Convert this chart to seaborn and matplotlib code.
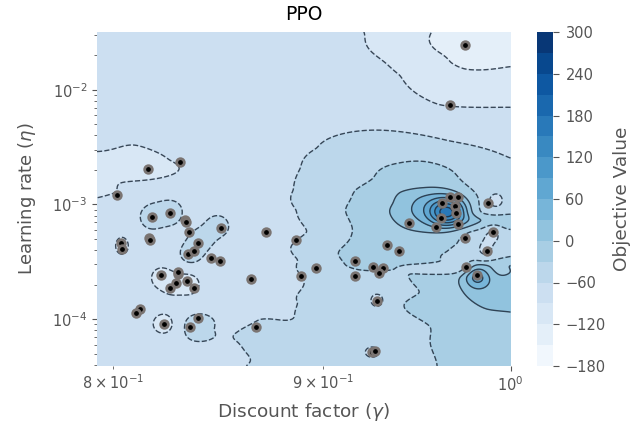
import numpy as np
import pandas as pd
import matplotlib
matplotlib.use("Agg")
import matplotlib.pyplot as plt
import seaborn as sns

title = "PPO"
x_label = r"Discount factor ($\gamma$)"
y_label = r"Learning rate ($\eta$)"
cbar_label = "Objective Value"

# trials
gamma_trials = [.8306,.8158,.8018,.8177,.8259,.8329,.8333,.8348,.8499,.8720,.8163,.8168,.8390,.8036,.8040,
                .8343,.8371,.8451,.8494,.8218,.8296,.8296,.8338,.8287,.8259,.8371,.8643,.8122,.8104,.8232,
                .8390,.8352,.8667,.8868,.8893,.8968,.9166,.9166,.9259,.9311,.9290,.9332,.9395,.9280,.9254,
                .9270,.9448,.9667,.9710,.9624,.9694,.9700,.9618,.9710,.9591,.9748,.9875,.9902,.9869,.9754,
                .9814,.9748,.9667]
eta_trials = [2.34e-3,2.04e-3,1.21e-3,7.8e-4,8.4e-4,7.3e-4,7.0e-4,5.8e-4,6.2e-4,5.8e-4,5.1e-4,4.9e-4,4.6e-4,4.6e-4,4.1e-4,
              3.7e-4,3.9e-4,3.4e-4,3.2e-4,2.44e-4,2.49e-4,2.6e-4,2.16e-4,2.08e-4,1.88e-4,1.88e-4,2.25e-4,1.23e-4,1.14e-4,9.1e-5,
              1.03e-4,8.6e-5,8.6e-5,4.9e-4,2.39e-4,2.8e-4,3.2e-4,2.39e-4,2.86e-4,2.8e-4,2.54e-4,4.45e-4,3.94e-4,1.45e-4,5.2e-5,
              5.3e-5,6.9e-4,1.16e-3,1.16e-3,1.03e-3,9.7e-4,8.4e-4,7.6e-4,6.8e-4,6.4e-4,5.1e-4,1.03e-3,5.8e-4,3.94e-4,2.86e-4,
              2.44e-4,2.44e-2,7.3e-3]

# objective surface read along its iso-lines: value, log10(gamma), log10(eta)
iso_m120_lg = [-.0193,-.0181,-.0147,-.0111,-.0001]
iso_m120_le = [-1.500,-1.657,-1.761,-1.822,-1.796]
iso_m90_lg = [-.0356,-.0342,-.0269,-.0171,-.0098,-.0001,-.1003,-.0918,-.0833,-.0884,-.0950,-.0962,-.0998]
iso_m90_le = [-1.500,-1.657,-1.874,-2.135,-2.152,-2.152,-2.544,-2.474,-2.613,-2.787,-2.804,-2.900,-2.935]
iso_m60_lg = [-.0001,-.0147,-.0317,-.0471,-.0512,-.0529,-.0522,-.0495,-.0517,-.0509,-.0517,-.0544,-.0616,-.0658,-.0663,-.0646]
iso_m60_le = [-2.596,-2.448,-2.352,-2.509,-2.683,-2.874,-3.048,-3.239,-3.483,-3.630,-3.857,-4.022,-3.996,-4.091,-4.204,-4.404]
iso_m30_lg = [-.0334,-.0269,-.0213,-.0130,-.0072,-.0101,-.0128,-.0154,-.0159,-.0116,-.0074,-.0001,
              -.0378,-.0390,-.0420,-.0402,-.0373,-.0286,-.0293,-.0264,-.0244,-.0220,-.0196,-.0179]
iso_m30_le = [-2.770,-2.639,-2.622,-2.752,-3.074,-3.239,-3.335,-3.413,-3.500,-3.570,-3.500,-3.457,
              -2.874,-3.161,-3.422,-3.535,-3.570,-3.544,-3.448,-3.457,-3.596,-3.770,-4.065,-4.404]
iso_0_lg = [-.0001,-.0043,-.0091,-.0123,-.0123,-.0098,-.0057,-.0001,-.0286,-.0269,-.0213,-.0164,-.0244,-.0196,-.0067]
iso_0_le = [-3.596,-3.517,-3.544,-3.630,-3.717,-3.830,-3.917,-3.935,-2.987,-2.891,-2.857,-2.857,-3.222,-3.248,-3.135]

hint_lg = [-.0098,-.0001,-.0220,-.0001,-.0974,-.0901,
           -.1006,-.0512,-.0950,-.0634,-.0269,-.0001,-.0998,-.0634,-.0925,-.0706,-.1006,-.0585,-.0439,
           -.0877,-.0658,-.0925,-.0658,-.0719,-.0901,-.0828,-.0694,-.0889,-.0658,-.0755,-.0877,-.0706,-.0816,
           -.0390,-.0463,-.0439,-.0439,-.0269,-.0050,-.0013,-.0196,-.0006,-.0013,-.0354,-.0402,-.0597,-.0621,
           -.0342,-.0220,-.0123,-.0001,-.0171,-.0354,-.0342,-.0026]
hint_le = [-1.570,-1.570,-1.743,-1.961,-2.657,-2.657,
           -1.500,-1.500,-2.091,-2.265,-2.178,-2.352,-3.309,-3.135,-4.265,-4.265,-3.830,-3.657,-2.004,
           -2.961,-2.874,-3.526,-3.570,-3.830,-4.222,-4.387,-4.387,-3.830,-3.222,-2.352,-3.309,-4.091,-4.222,
           -2.526,-2.961,-3.830,-4.309,-4.178,-2.787,-3.265,-2.526,-2.961,-3.352,-3.700,-3.700,-4.265,-4.135,
           -3.048,-2.744,-4.178,-4.178,-3.830,-3.439,-3.265,-3.744]
hint_val = [-135,-135,-105,-105,-105,-100,
            -75,-75,-75,-75,-75,-75,-75,-75,-75,-75,-75,-75,-75,
            -75,-75,-75,-75,-75,-75,-75,-75,-75,-75,-75,-75,-75,-75,
            -45,-45,-45,-45,-45,-45,-45,-45,-45,-45,-45,-45,-45,-45,
            -15,-15,-15,-15,-15,-20,-20,12]

# local peaks and dips of the surface around trials
peak_lg = [-.0196,-.0152,-.0081,-.0874,-.0830,-.0714,-.0755,-.0779,-.0762,-.0852,-.0823,-.0784,-.0845,-.0947,-.0325,-.0337,-.0036,-.0043,-.0064]
peak_le = [-3.004,-3.065,-3.613,-3.109,-3.074,-3.187,-3.309,-3.430,-4.074,-3.639,-3.700,-3.700,-4.039,-3.361,-3.839,-4.291,-2.961,-3.248,-3.396]
peak_height = [70,150,85,36,36,30,30,30,34,-27,-27,-27,-30,-35,-35,-35,-32,-25,-25]
peak_spread_lg = [.0063,.0031,.0023,.0022,.0022,.0024,.0024,.0022,.0034,.0019,.0019,.0019,.0017,.0012,.0015,.0013,.0016,.0017,.0017]
peak_spread_le = [.130,.083,.083,.078,.078,.078,.078,.070,.096,.070,.070,.070,.061,.057,.052,.035,.052,.070,.070]

levels = np.arange(-180, 301, 30)
cbar_ticks = np.arange(-180, 301, 60)
x_limits = (0.7929, 1.0)
y_limits = (3.9e-5, 3.19e-2)

plt.style.use("ggplot")
sns.set_style({"axes.grid": False, "axes.facecolor": "white", "axes.edgecolor": "white",
               "xtick.bottom": True, "ytick.left": True, "figure.facecolor": "white"})
plt.rcParams["font.family"] = ["DejaVu Sans"]


def local_terms(lg, le):
    total = np.zeros_like(lg, dtype=float)
    for a, b, h, su, sv in zip(peak_lg, peak_le, peak_height, peak_spread_lg, peak_spread_le):
        total += h * np.exp(-((lg - a) / su) ** 2 / 2 - ((le - b) / sv) ** 2 / 2)
    return total


lg_s = np.array(iso_m120_lg + iso_m90_lg + iso_m60_lg + iso_m30_lg + iso_0_lg + hint_lg)
le_s = np.array(iso_m120_le + iso_m90_le + iso_m60_le + iso_m30_le + iso_0_le + hint_le)
val_s = np.array([-120.] * len(iso_m120_lg) + [-90.] * len(iso_m90_lg) + [-60.] * len(iso_m60_lg)
                 + [-30.] * len(iso_m30_lg) + [0.] * len(iso_0_lg) + list(hint_val))

SU, SV = 0.1, 0.87   # one unit of smoothing distance in log10 gamma / log10 eta


def tps(r2):
    out = np.zeros_like(r2)
    m = r2 > 0
    out[m] = 0.5 * r2[m] * np.log(r2[m])
    return out


def dist2(a1, b1, a2, b2):
    return ((a1[..., None] - a2) / SU) ** 2 + ((b1[..., None] - b2) / SV) ** 2


n = len(lg_s)
K = tps(dist2(lg_s, le_s, lg_s, le_s)) + 1e-3 * np.eye(n)
P = np.column_stack([np.ones(n), lg_s / SU, le_s / SV])
A = np.block([[K, P], [P.T, np.zeros((3, 3))]])
# the flat left plateau (-75) is a background level; local features sit on top of it
residual = val_s - local_terms(lg_s, le_s) * (val_s != -75)
b = np.concatenate([residual, np.zeros(3)])
w = np.linalg.solve(A, b)

gx = np.linspace(np.log10(x_limits[0]), np.log10(x_limits[1]), 400)
gy = np.linspace(np.log10(y_limits[0]), np.log10(y_limits[1]), 400)
LG, LE = np.meshgrid(gx, gy)
Z = tps(dist2(LG, LE, lg_s, le_s)) @ w[:n] + w[n] + w[n + 1] * LG / SU + w[n + 2] * LE / SV
Z = Z + local_terms(LG, LE)
Z = np.clip(Z, -179, 299)

fig = plt.figure(figsize=(6.44, 4.32), dpi=100, facecolor="white")
ax = fig.add_axes([97 / 644, 66 / 432, 413.5 / 644, 334 / 432])
cax = fig.add_axes([537 / 644, 66 / 432, 16 / 644, 334 / 432])
ax.set_xscale("log")
ax.set_yscale("log")
ax.grid(False)

cf = ax.contourf(10 ** LG, 10 ** LE, Z, levels=levels, cmap=sns.color_palette("Blues", as_cmap=True))
ax.contour(10 ** LG, 10 ** LE, Z, levels=levels, colors="#1f2d3d", linewidths=1.0, alpha=0.85)

trials = pd.DataFrame({"gamma": gamma_trials, "eta": eta_trials})
sns.scatterplot(data=trials, x="gamma", y="eta", color="black", s=30, edgecolor="#7a7472",
                linewidth=2.0, ax=ax, zorder=5, legend=False)

ax.set_xlim(*x_limits)
ax.set_ylim(*y_limits)
ax.set_title(title, fontsize=13.5, color="black", pad=9)
ax.set_xlabel(x_label, fontsize=13.3, color="#555555", labelpad=5)
ax.set_ylabel(y_label, fontsize=13, color="#555555", labelpad=10)
ax.tick_params(axis="both", which="both", colors="#555555", labelsize=10.5)

cb = fig.colorbar(cf, cax=cax, ticks=cbar_ticks)
cb.outline.set_visible(False)
cb.ax.tick_params(colors="#555555", labelsize=10.5, length=4, pad=5)
cb.set_label(cbar_label, fontsize=13.3, color="#555555", labelpad=5)
for s in ax.spines.values():
    s.set_visible(False)

fig.savefig("out.png", dpi=100)
